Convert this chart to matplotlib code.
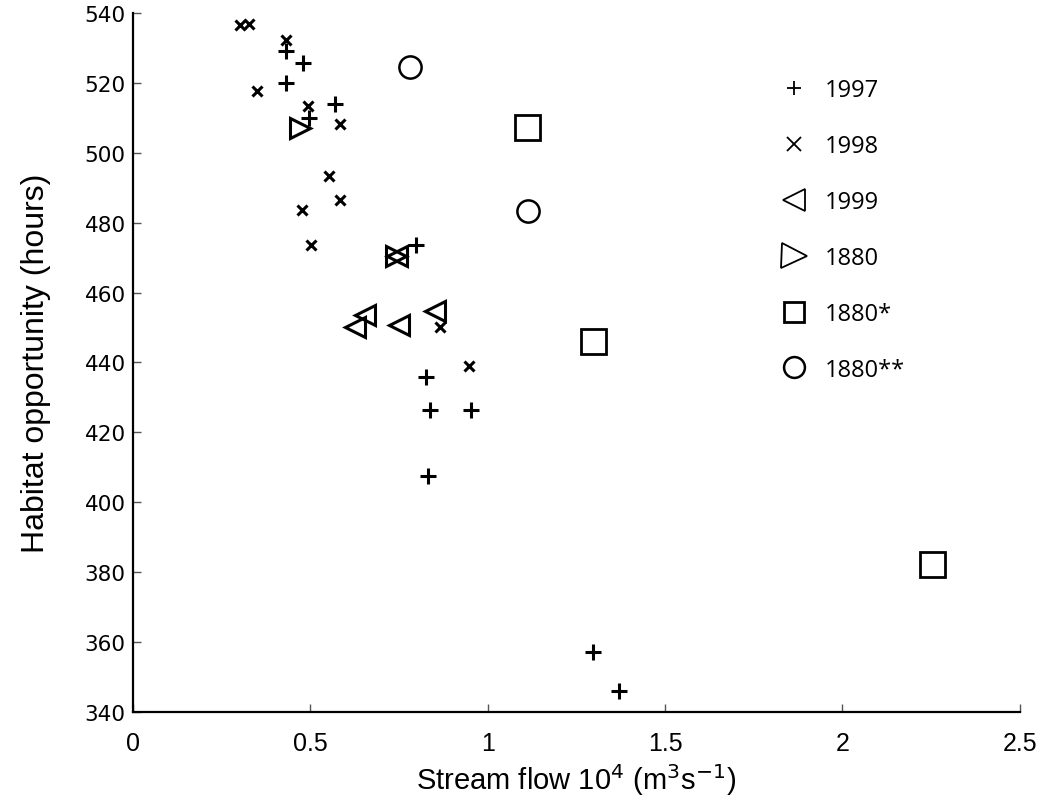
import matplotlib
matplotlib.use('Agg')
import matplotlib.pyplot as plt
from matplotlib.lines import Line2D

# 各年のデータ (stream flow 10^4 m3/s, habitat opportunity hours)
flow_1997 = [0.432, 0.479, 0.432, 0.571, 0.498, 0.797, 0.827, 0.837, 0.954, 0.831, 1.296, 1.371]
hours_1997 = [529.2, 525.7, 519.9, 514.0, 510.0, 473.6, 435.8, 426.4, 426.4, 407.6, 357.3, 346.1]

flow_1998 = [0.302, 0.329, 0.432, 0.351, 0.495, 0.583, 0.554, 0.583, 0.478, 0.502, 0.867, 0.947]
hours_1998 = [536.6, 536.9, 532.4, 517.6, 513.5, 508.2, 493.4, 486.5, 483.5, 473.6, 450.1, 439.1]

flow_1999 = [0.627, 0.655, 0.749, 0.853, 0.745]
hours_1999 = [450.1, 453.6, 450.7, 454.8, 470.4]

flow_1880 = [0.472, 0.741]
hours_1880 = [507.0, 470.4]

flow_1880s = [1.112, 1.296, 2.253]
hours_1880s = [507.5, 446.2, 382.3]

flow_1880ss = [0.780, 1.115]
hours_1880ss = [524.6, 483.3]

legend_labels = ['1997', '1998', '1999', '1880', '1880*', '1880**']

fig = plt.figure(figsize=(10.45, 8.04), dpi=100)
ax = fig.add_axes([0.127, 0.1132, 0.849, 0.8694])

ax.plot(flow_1997, hours_1997, '+', color='black', ms=12, mew=2.2, ls='none')
ax.plot(flow_1998, hours_1998, 'x', color='black', ms=7, mew=2.2, ls='none')
ax.plot(flow_1999, hours_1999, '<', color='black', mfc='none', ms=14, mew=2.2, ls='none')
ax.plot(flow_1880, hours_1880, '>', color='black', mfc='none', ms=14, mew=2.2, ls='none')
ax.plot(flow_1880s, hours_1880s, 's', color='black', mfc='none', ms=18, mew=2.0, ls='none')
ax.plot(flow_1880ss, hours_1880ss, 'o', color='black', mfc='none', ms=16, mew=1.8, ls='none')

ax.set_xlim(0, 2.5)
ax.set_ylim(340, 540)
ax.set_xticks([0, 0.5, 1, 1.5, 2, 2.5])
ax.set_xticklabels(['0', '0.5', '1', '1.5', '2', '2.5'], family='Liberation Sans', fontsize=18)
ax.set_yticks(range(340, 541, 20))
ax.set_yticklabels([str(v) for v in range(340, 541, 20)], family='DejaVu Sans', fontsize=15.5)

for s in ['top', 'right']:
    ax.spines[s].set_visible(False)
for s in ['left', 'bottom']:
    ax.spines[s].set_linewidth(1.6)
ax.tick_params(direction='in', length=6, width=1, color='#555555')
ax.tick_params(axis='x', pad=14)
ax.tick_params(axis='y', pad=5)

ax.set_xlabel('Stream flow 10$^4$ (m$^3$s$^{-1}$)', family='Liberation Sans', fontsize=21, labelpad=4)
ax.set_ylabel('Habitat opportunity (hours)', family='Liberation Sans', fontsize=23, labelpad=24)

# 凡例
handles = [
    Line2D([], [], marker='+', color='black', ms=10, mew=1.3, ls='none'),
    Line2D([], [], marker='x', color='black', ms=10, mew=1.3, ls='none'),
    Line2D([], [], marker='<', color='black', mfc='none', ms=16, mew=1.3, ls='none'),
    Line2D([], [], marker='>', color='black', mfc='none', ms=18, mew=1.3, ls='none'),
    Line2D([], [], marker='s', color='black', mfc='none', ms=14, mew=2.0, ls='none'),
    Line2D([], [], marker='o', color='black', mfc='none', ms=15, mew=1.8, ls='none'),
]
ax.legend(handles, legend_labels, loc='upper left', bbox_to_anchor=(0.706, 0.937),
          frameon=False, labelspacing=1.35, handletextpad=0.7, handlelength=1.2,
          prop={'family': ['Open Sans', 'DejaVu Sans'], 'size': 17})

fig.savefig('out.png', dpi=100)
